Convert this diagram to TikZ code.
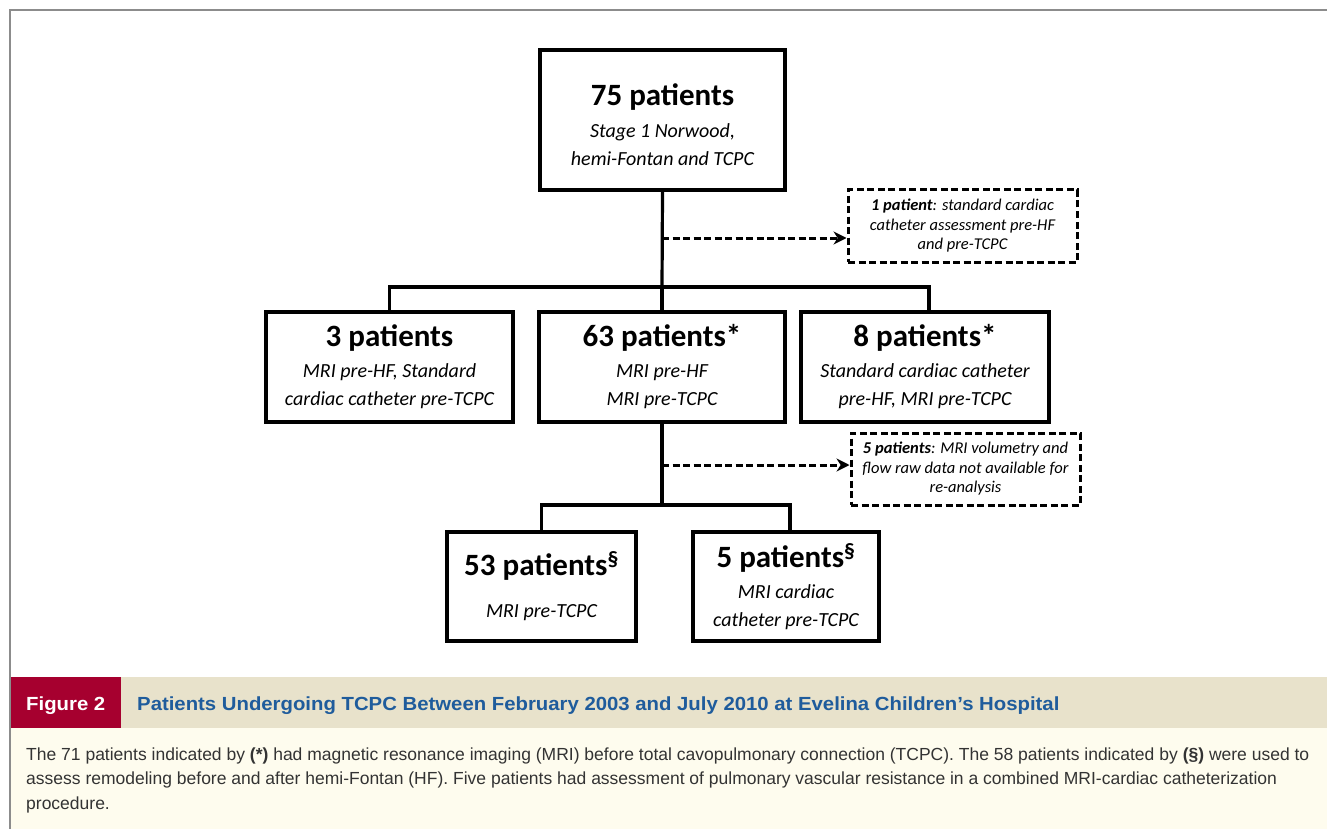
\documentclass[tikz,border=0pt]{standalone}
\usepackage{fontspec}
\setmainfont{Carlito}
\newfontfamily\capfont{Liberation Sans}
\newfontfamily\captitlefont[FakeStretch=1.07]{Liberation Sans}
\usetikzlibrary{arrows.meta}
\definecolor{figred}{HTML}{A6002F}
\definecolor{captan}{HTML}{E8E2CB}
\definecolor{capcream}{HTML}{FEFCEE}
\definecolor{capblue}{HTML}{1F5C9C}
\definecolor{capgray}{HTML}{333333}
\definecolor{framegray}{HTML}{8C8C8C}
\newcommand{\pathead}[1]{{\fontsize{31}{33}\selectfont\upshape\bfseries #1}}
\newcommand{\notehead}[1]{{\bfseries #1}}

\begin{document}
\begin{tikzpicture}[x=1pt,y=-1pt,
	patbox/.style={draw,line width=3.2pt,align=center,inner sep=0pt,font=\fontsize{20}{28}\selectfont\itshape},
	notebox/.style={draw,line width=3pt,dash pattern=on 7pt off 3.5pt,align=center,inner sep=0pt,minimum width=229pt,minimum height=72pt,font=\fontsize{16.5}{19.5}\selectfont\itshape},
	link/.style={line width=3.2pt},
	notelink/.style={line width=3pt,dash pattern=on 7pt off 3.5pt,-{Stealth[length=13pt,width=13pt]}},
	captext/.style={anchor=base west,inner sep=0pt,text=capgray,font=\capfont\fontsize{17.5}{24}\selectfont}]
	\useasboundingbox (0,0) rectangle (1327,829);
	
	\node [patbox,minimum width=245pt,minimum height=140pt] (all) at (662.5,120)
		{\pathead{\rule{0pt}{31pt}75 patients}\\[4pt] Stage 1 Norwood,\\ hemi-Fontan and TCPC};
	\node [patbox,minimum width=247pt,minimum height=110pt] (pA) at (389.5,367)
		{\pathead{3 patients}\\[3pt] MRI pre-HF, Standard\\ cardiac catheter pre-TCPC};
	\node [patbox,minimum width=246pt,minimum height=110pt] (pB) at (662,367)
		{\pathead{63 patients*}\\[3pt] MRI pre-HF\\ MRI pre-TCPC};
	\node [patbox,minimum width=248pt,minimum height=110pt] (pC) at (925,367)
		{\pathead{8 patients*}\\[3pt] Standard cardiac catheter\\ pre-HF, MRI pre-TCPC};
	\node [patbox,minimum width=189pt,minimum height=109pt] (pD) at (541.5,586.5)
		{\pathead{53 patients\textsuperscript{§}}\\[14pt] MRI pre-TCPC};
	\node [patbox,minimum width=186pt,minimum height=109pt] (pE) at (786,586.5)
		{\pathead{5 patients\textsuperscript{§}}\\[3pt] MRI cardiac\\ catheter pre-TCPC};
	
	\node [notebox] (note1) at (962.5,226)
		{\notehead{1 patient}: standard cardiac\\ catheter assessment pre-HF\\ and pre-TCPC};
	\node [notebox] (note2) at (965.5,469)
		{\notehead{5 patients}: MRI volumetry and\\ flow raw data not available for\\ re-analysis};
	
	\coordinate (fork1) at (662,287);
	\coordinate (fork2) at (662,505);
	\coordinate (split1) at (662,238);
	\coordinate (split2) at (662,465);
	
	\draw [link] (all.south) -- (fork1);
	\draw [link] (pA.north) |- (fork1) -| ([xshift=4pt]pC.north);
	\draw [link] (fork1) -- (pB.north);
	\draw [link] (pB.south) -- (fork2);
	\draw [link] (pD.north) |- (fork2) -| ([xshift=4pt]pE.north);
	\draw [notelink] (split1) -- (split1 -| note1.west);
	\draw [notelink] (split2) -- (split2 -| note2.west);
	
	\fill [captan] (11,677) rectangle (1327,728);
	\fill [figred] (11,677) rectangle (121,728);
	\fill [capcream] (11,728) rectangle (1327,829);
	\draw [framegray,line width=2.5pt] (10,829) -- (10,10) -- (1327,10);
	
	\node [captext,text=white,font=\captitlefont\bfseries\fontsize{19}{24}\selectfont] (fig) at (26,710) {Figure 2};
	\node [captext,text=capblue,font=\captitlefont\bfseries\fontsize{19}{24}\selectfont] (title) at (137,710)
		{Patients Undergoing TCPC Between February 2003 and July 2010 at Evelina Children’s Hospital};
	\foreach \t [count=\i] in {%
		{The 71 patients indicated by \textbf{(*)} had magnetic resonance imaging (MRI) before total cavopulmonary connection (TCPC). The 58 patients indicated by \textbf{(§)} were used to},
		{assess remodeling before and after hemi-Fontan (HF). Five patients had assessment of pulmonary vascular resistance in a combined MRI-cardiac catheterization},
		{procedure.}}
		\node [captext] (cap\i) at (26,735.5+24.5*\i) {\t};
\end{tikzpicture}
\end{document}
